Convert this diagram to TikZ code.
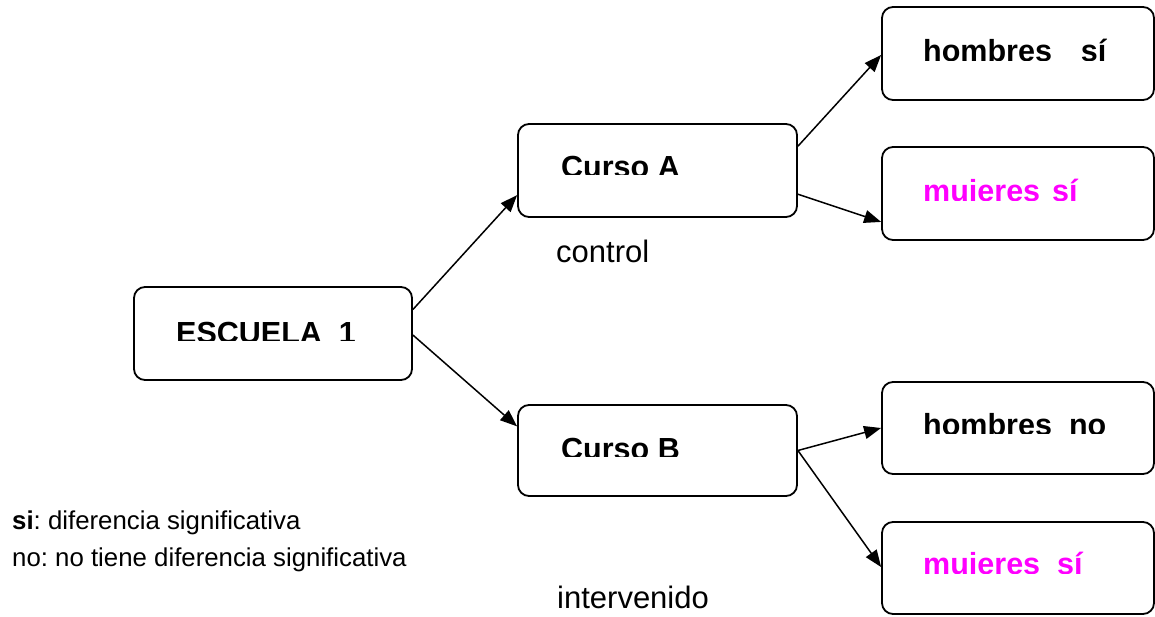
\documentclass[tikz,border=0pt]{standalone}
\usepackage{fontspec}
\setmainfont{Liberation Sans}
\usetikzlibrary{arrows.meta,calc}
\frenchspacing
\definecolor{magentatxt}{RGB}{255,0,255}
\tikzset{
  box/.style={draw=black, line width=1.8pt, rounded corners=11pt, inner sep=0pt},
  link/.style={draw=black, line width=1.5pt, -{Triangle[length=17pt,width=13pt]}},
  boxtext/.style={anchor=base west, inner sep=0pt, font=\fontsize{30.5pt}{36pt}\selectfont\bfseries},
  plaintext/.style={anchor=base west, inner sep=0pt, font=\fontsize{31pt}{37pt}\selectfont},
  legendtext/.style={anchor=base west, inner sep=0pt, font=\fontsize{25.8pt}{31pt}\selectfont},
}
\begin{document}
\begin{tikzpicture}[x=1pt, y=-1pt]
\useasboundingbox (0,0) rectangle (1155,617);

% boxes
\node[box, minimum width=278pt, minimum height=93pt] (esc) at (273,333.5) {};
\node[box, minimum width=279pt, minimum height=93pt] (ca) at (657.5,170.5) {};
\node[box, minimum width=279pt, minimum height=91pt] (cb) at (657.5,450.5) {};
\node[box, minimum width=272pt, minimum height=93pt] (hs) at (1018,53.5) {};
\node[box, minimum width=272pt, minimum height=93pt] (ms) at (1018,193.5) {};
\node[box, minimum width=272pt, minimum height=92pt] (hn) at (1018,428) {};
\node[box, minimum width=272pt, minimum height=92pt] (mb) at (1018,568) {};

% box labels, cut off at the bottom of each text frame
\begin{scope}
  \clip (hs.north west) rectangle (1154,61);
  \node[boxtext] (hstext) at (923,62) {hombres\hspace{29pt}sí};
\end{scope}
\begin{scope}
  \clip (ms.north west) rectangle (1154,201);
  \node[boxtext, text=magentatxt] (mstext) at (923,202) {mujeres\hspace{12pt}sí};
\end{scope}
\begin{scope}
  \clip (ca.north west) rectangle (ca.east |- 0,175);
  \node[boxtext] (catext) at (561,178) {Curso A};
\end{scope}
\begin{scope}
  \clip (esc.north west) rectangle (esc.east |- 0,340);
  \node[boxtext] (esctext) at (176,343) {ESCUELA\hspace{17pt}1};
\end{scope}
\begin{scope}
  \clip (cb.north west) rectangle (cb.east |- 0,456);
  \node[boxtext] (cbtext) at (561,459) {Curso B};
\end{scope}
\begin{scope}
  \clip (hn.north west) rectangle (1154,433);
  \node[boxtext] (hntext) at (923,435) {hombres\hspace{17pt}no};
\end{scope}
\begin{scope}
  \clip (mb.north west) rectangle (1154,573);
  \node[boxtext, text=magentatxt] (mbtext) at (923,574) {mujeres\hspace{17pt}sí};
\end{scope}

% connectors
\draw[link] ($(esc.north east)!0.247!(esc.south east)$) -- ($(ca.north west)!0.76!(ca.south west)$);
\draw[link] ($(esc.north east)!0.516!(esc.south east)$) -- ($(cb.north west)!0.24!(cb.south west)$);
\draw[link] ($(ca.north east)!0.244!(ca.south east)$) -- ($(hs.north west)!0.516!(hs.south west)$);
\draw[link] ($(ca.north east)!0.75!(ca.south east)$) -- ($(ms.north west)!0.80!(ms.south west)$);
\draw[link] ($(cb.north east)!0.50!(cb.south east)$) -- ($(hn.north west)!0.50!(hn.south west)$);
\draw[link] ($(cb.north east)!0.50!(cb.south east)$) -- ($(mb.north west)!0.49!(mb.south west)$);

% group labels
\node[plaintext] (control) at (556,263) {control};
\node[plaintext] (interv) at (557,608) {intervenido};

% legend
\node[legendtext] (leg1) at (12,529) {\textbf{si}: diferencia significativa};
\node[legendtext] (leg2) at (12,566) {no: no tiene diferencia significativa};
\end{tikzpicture}
\end{document}
